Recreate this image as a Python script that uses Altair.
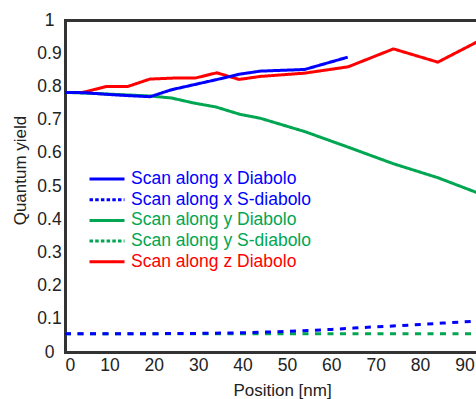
import altair as alt
import pandas as pd

# ---- data ----
x_blue = [0, 4.5, 9.5, 14.5, 19.2, 24, 29, 34, 39.4, 44, 54, 63.7]
y_blue = [0.782, 0.781, 0.776, 0.772, 0.769, 0.79, 0.805, 0.82, 0.837, 0.846, 0.851, 0.888]

x_blue_s = [0, 5, 10, 15, 20, 25, 30, 35, 40, 45, 50, 55, 60, 65, 70, 75, 80, 85, 90, 95]
y_blue_s = [0.055, 0.055, 0.055, 0.055, 0.055, 0.056, 0.056, 0.057, 0.058, 0.060, 0.062, 0.065,
            0.068, 0.072, 0.076, 0.079, 0.083, 0.087, 0.091, 0.094]

x_green = [0, 4.5, 9.5, 14.5, 19.2, 24, 29, 34, 39.4, 44, 54, 64, 74, 84, 94]
y_green = [0.782, 0.78, 0.777, 0.774, 0.771, 0.765, 0.75, 0.738, 0.716, 0.704, 0.664, 0.616,
           0.567, 0.525, 0.474]

x_green_s = [0, 5, 10, 15, 20, 25, 30, 35, 40, 45, 50, 55, 60, 65, 70, 75, 80, 85, 90, 95]
y_green_s = [0.055, 0.055, 0.055, 0.055, 0.055, 0.055, 0.055, 0.055, 0.055, 0.055, 0.055, 0.055,
             0.055, 0.055, 0.055, 0.055, 0.055, 0.055, 0.055, 0.055]

x_red = [0, 4, 9.4, 14.2, 19.1, 24.4, 29.3, 34.2, 39.2, 44, 54, 63.8, 74, 84, 94]
y_red = [0.782, 0.782, 0.80, 0.80, 0.822, 0.825, 0.825, 0.841, 0.821, 0.83, 0.84, 0.859,
         0.913, 0.873, 0.942]

series_names = ["Scan along x Diabolo", "Scan along x S-diabolo", "Scan along y Diabolo",
                "Scan along y S-diabolo", "Scan along z Diabolo"]
series_colors = ["#0000ff", "#0000ff", "#00a651", "#00a651", "#ff0000"]

x_ticks = [0, 10, 20, 30, 40, 50, 60, 70, 80, 90]
y_ticks = [0, 0.1, 0.2, 0.3, 0.4, 0.5, 0.6, 0.7, 0.8, 0.9, 1]


def frame(xs, ys, name):
    return pd.DataFrame({"pos": xs, "qy": ys, "series": name})


df = pd.concat([
    frame(x_blue, y_blue, series_names[0]),
    frame(x_blue_s, y_blue_s, series_names[1]),
    frame(x_green, y_green, series_names[2]),
    frame(x_green_s, y_green_s, series_names[3]),
    frame(x_red, y_red, series_names[4]),
])

FONT = "Liberation Sans"
XMAX = 92.6

color = alt.Color(
    "series:N",
    scale=alt.Scale(domain=series_names, range=series_colors),
    legend=alt.Legend(
        title=None, orient="none", legendX=23, legendY=149, padding=0,
        symbolType="stroke", symbolSize=1225, symbolStrokeWidth=3,
        labelFontSize=17.5, labelFont=FONT, labelOffset=5, rowPadding=0.7, clipHeight=20,
        labelLimit=400,
        labelColor=alt.ExprRef(
            "indexof(datum.label, ' z ') >= 0 ? '#ff0000' : (indexof(datum.label, ' y ') >= 0 ? '#00a651' : '#0000ff')"),
        symbolDash=alt.ExprRef(
            "indexof(datum.label, 'S-') >= 0 ? [3.5, 2.2] : [1, 0]"),
    ),
)

x_bottom = alt.X(
    "pos:Q",
    scale=alt.Scale(domain=[0, XMAX], nice=False, zero=False),
    axis=alt.Axis(values=x_ticks, title="Position [nm]", orient="bottom", labelPadding=4,
                  titleX=217, titleY=43, titleBaseline="alphabetic"),
)
x_top = alt.X(
    "pos:Q",
    scale=alt.Scale(domain=[0, XMAX], nice=False, zero=False),
    axis=alt.Axis(orient="top", labels=False, ticks=False, title=None, grid=False),
)
y_enc = alt.Y(
    "qy:Q",
    scale=alt.Scale(domain=[0, 1], nice=False),
    axis=alt.Axis(values=y_ticks, title="Quantum yield", format="~g", labelPadding=16,
                  labelAlign="center",
                  titleX=-45, titleY=150, titleBaseline="middle", titleAngle=-90),
)


def layer(name, dash, x_enc):
    return alt.Chart(df).transform_filter(alt.datum.series == name).mark_line(
        strokeWidth=3, clip=True, strokeDash=dash, strokeCap="butt", strokeJoin="round"
    ).encode(x=x_enc, y=y_enc, color=color, detail="series:N")


chart = alt.layer(
    layer(series_names[3], [6, 6.5], x_bottom),
    layer(series_names[1], [6, 6.5], x_top),
    layer(series_names[2], [1, 0], x_top),
    layer(series_names[4], [1, 0], x_top),
    layer(series_names[0], [1, 0], x_top),
).resolve_axis(x="independent").properties(
    width=411, height=332,
    autosize=alt.AutoSizeParams(type="none"),
    padding={"left": 65, "top": 20, "right": 0, "bottom": 47},
    background="white",
).configure_view(stroke=None).configure_axis(
    domainColor="#333333", domainWidth=3, domainCap="square", ticks=False, grid=False,
    labelFont=FONT, labelFontSize=17.5, labelColor="#222222",
    titleFont=FONT, titleFontSize=17, titleFontWeight="normal", titleColor="#222222",
)

chart.save("out.html", embed_options={"renderer": "svg", "actions": False})
